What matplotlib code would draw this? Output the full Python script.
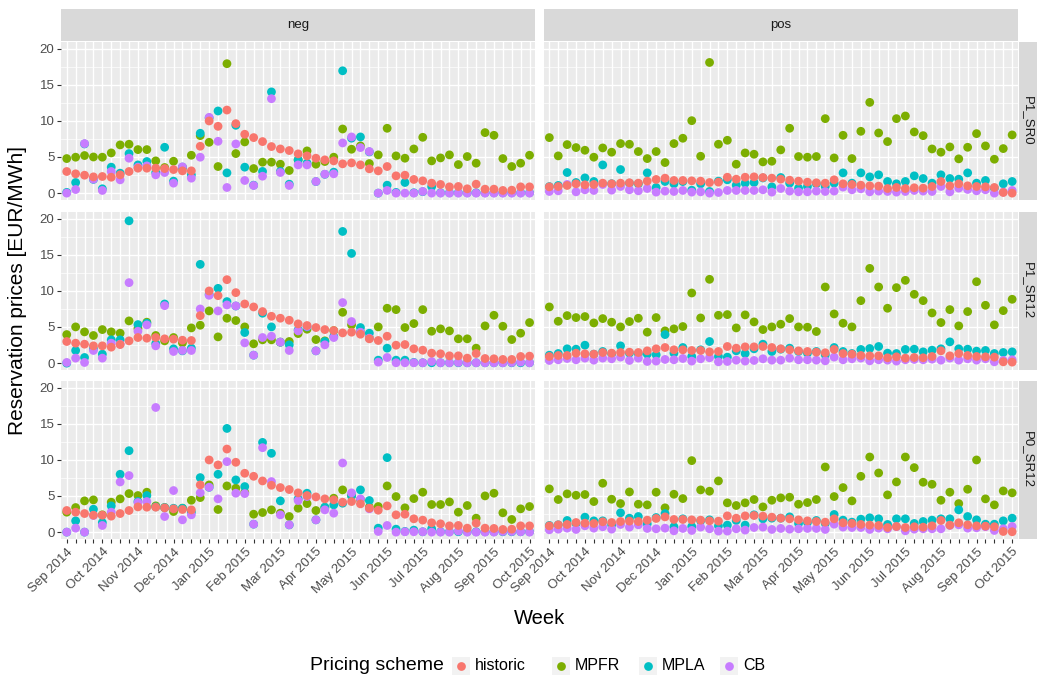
import numpy as np
import matplotlib
matplotlib.use("Agg")
import matplotlib.pyplot as plt
from matplotlib.patches import Rectangle
from matplotlib.lines import Line2D

plt.rcParams['font.family'] = ['Liberation Sans', 'DejaVu Sans']

schemes = ["historic", "MPFR", "MPLA", "CB"]
colours = ["#F8766D", "#7CAE00", "#00BFC4", "#C77CFF"]
directions = ["neg", "pos"]
products = ["P1_SR0", "P1_SR12", "P0_SR12"]
month_labels = ["Sep 2014", "Oct 2014", "Nov 2014", "Dec 2014", "Jan 2015", "Feb 2015", "Mar 2015",
                "Apr 2015", "May 2015", "Jun 2015", "Jul 2015", "Aug 2015", "Sep 2015", "Oct 2015"]
n_weeks = 53

# ---- P1_SR0 ----
p1sr0_neg_historic = [2.99,2.67,2.48,2.25,2.3,2.2,2.53,2.99,3.45,3.45, 3.45,3.4,3.26,3.08,3.08,6.48,9.98,9.24,11.49,9.61,
                      8.14,7.68,7.13,6.44,6.11,5.89,5.43,5.15,4.83,4.6, 4.46,4.05,4.18,3.91,3.36,3.08,3.68,2.39,2.48,1.89,
                      1.7,1.38,1.2,0.87,0.92,0.6,1.24,0.55,0.55,0.37, 0.41,0.87,0.87]
p1sr0_neg_mpfr = [4.78,4.97,5.2,5.0,4.97,5.56,6.67,6.76,6.02,6.02, 4.46,3.54,4.41,3.5,5.24,7.95,7.03,3.68,17.9,5.47,
                  7.08,3.4,4.28,4.28,4.0,3.13,4.6,5.84,4.0,4.37, 4.97,8.87,6.07,6.53,4.09,5.29,8.97,5.15,4.83,6.11,
                  7.72,4.46,4.87,5.29,3.95,5.06,4.14,8.37,8.0,4.78, 3.68,4.14,5.24]
p1sr0_neg_mpla = [0.1,1.47,6.8,1.9,0.6,3.59,2.76,5.47,3.9,4.37, 2.85,6.34,1.66,3.6,2.53,8.28,10.4,11.36,2.8,9.38,
                  3.59,1.1,3.0,14.0,3.0,1.24,4.6,4.14,1.6,2.6, 2.9,16.92,7.6,7.77,5.7,0.0,1.1,0.1,1.47,0.05,
                  0.2,0.9,0.05,0.05,0.05,0.05,0.05,0.05,0.05,0.05, 0.05,0.05,0.05]
p1sr0_neg_cb = [0.0,0.5,6.85,1.93,0.37,2.99,1.84,4.83,3.59,3.77, 2.53,2.85,1.38,3.63,2.07,4.97,10.48,7.17,0.78,6.8,
                1.75,1.06,2.34,13.06,2.85,1.06,3.9,3.9,1.61,2.62, 2.67,6.94,7.77,6.3,5.75,0.0,0.37,0.0,0.0,0.0,
                0.23,0.0,0.0,0.0,0.0,0.0,0.0,0.0,0.0,0.0, 0.0,0.0,0.0]
p1sr0_pos_historic = [0.87,0.92,1.06,1.29,1.15,1.2,1.38,1.29,1.38,1.43, 1.38,1.66,1.89,2.07,1.75,1.75,1.7,1.66,1.47,1.52,
                      2.2,1.93,2.2,2.25,2.16,2.07,1.93,1.79,1.66,1.52, 1.43,1.38,1.84,1.29,1.2,1.1,1.01,0.97,0.64,0.78,
                      0.64,0.74,0.69,0.92,1.61,1.01,1.29,1.01,0.92,0.87, 0.78,0.09,0.0]
p1sr0_pos_mpfr = [7.68,5.15,6.71,6.3,5.93,4.97,6.25,5.66,6.85,6.76, 5.75,4.78,5.75,4.23,6.85,7.59,10.02,5.1,18.07,6.76,
                  7.31,4.0,5.56,5.38,4.32,4.41,5.98,8.97,5.06,4.97, 5.06,10.3,4.87,8.0,4.78,8.55,12.55,8.32,7.13,10.3,
                  10.67,8.46,7.95,6.11,5.66,6.39,4.74,6.34,8.23,6.53, 4.69,6.16,8.05]
p1sr0_pos_mpla = [0.9,1.06,2.85,1.47,2.11,1.61,3.9,1.3,3.26,1.38, 1.29,2.8,0.78,1.61,1.29,1.6,0.41,1.29,0.23,1.66,
                  1.84,1.1,1.38,1.47,2.1,0.87,2.16,1.38,0.69,0.92, 1.29,0.92,1.38,2.8,1.38,2.8,2.25,2.53,1.61,1.29,
                  1.61,2.39,2.02,1.38,2.53,2.02,1.93,2.8,1.38,1.75, 0.69,1.29,1.61]
p1sr0_pos_cb = [0.23,0.32,1.2,0.18,0.46,0.37,1.2,0.41,0.92,0.46, 0.32,0.64,0.14,0.28,0.23,0.37,0.14,0.18,0.0,0.09,
                0.37,0.37,0.37,0.37,0.46,0.14,0.64,0.28,0.18,0.18, 0.28,0.23,0.28,0.83,0.46,0.6,0.18,0.28,0.23,0.14,
                0.23,0.37,0.28,0.23,0.92,0.18,0.69,0.51,0.32,0.46, 0.0,0.14,0.37]

# ---- P1_SR12 ----
p1sr12_neg_historic = [2.99,2.76,2.62,2.39,2.39,2.21,2.57,3.08,3.54,3.45, 3.54,3.36,3.31,3.17,3.13,6.57,9.98,9.33,11.54,9.75,
                       8.18,7.77,7.13,6.48,6.21,5.93,5.43,5.2,4.92,4.64, 4.51,4.18,4.28,4.0,3.36,3.13,3.72,2.48,2.57,1.98,
                       1.79,1.38,1.29,1.01,1.01,0.69,1.33,0.64,0.6,0.51, 0.51,0.92,0.97]
p1sr12_neg_mpfr = [3.95,5.01,4.32,3.82,4.64,4.32,4.14,5.84,4.8,5.66, 3.82,3.08,3.54,2.8,4.87,5.24,7.22,3.63,6.21,5.89,
                   5.01,2.67,3.22,3.22,2.9,2.99,4.09,4.69,3.26,3.08, 4.5,7.03,5.29,4.3,3.5,5.01,7.59,7.4,4.92,5.47,
                   7.4,4.41,4.74,4.46,3.36,3.36,2.07,5.15,6.62,5.1, 3.26,4.14,5.61]
p1sr12_neg_mpla = [0.0,1.75,0.78,1.98,1.24,3.22,3.22,19.68,5.33,5.52, 2.71,8.18,1.98,1.7,2.07,13.66,9.5,10.34,8.51,7.9,
                   4.23,1.1,6.9,5.01,2.9,2.53,4.6,5.0,1.7,2.99, 3.68,18.21,15.17,4.92,4.14,0.41,2.07,0.41,0.41,0.1,
                   0.05,0.05,0.05,0.05,0.05,0.05,0.05,0.05,0.05,0.05, 0.05,0.05,0.05]
p1sr12_neg_cb = [0.09,0.69,0.09,1.75,0.69,2.76,2.62,11.13,4.41,5.29, 2.39,7.95,1.61,1.75,1.75,7.49,9.38,7.22,8.05,7.91,
                 2.8,1.1,3.54,3.72,2.9,1.75,4.46,5.06,1.7,2.53, 3.54,8.37,5.75,4.28,3.45,0.14,0.78,0.05,0.05,0.05,
                 0.05,0.23,0.05,0.05,0.09,0.05,0.05,0.05,0.05,0.05, 0.09,0.14,0.05]
p1sr12_pos_historic = [0.92,1.06,1.06,1.38,1.29,1.24,1.47,1.38,1.47,1.52, 1.47,1.7,1.98,2.16,1.84,1.84,1.75,1.75,1.56,1.61,
                       2.3,2.07,2.25,2.25,2.3,2.16,1.98,1.84,1.7,1.61, 1.52,1.43,1.89,1.33,1.24,1.06,1.01,1.01,0.74,0.87,
                       0.69,0.78,0.74,0.92,1.7,1.01,1.33,1.06,0.92,0.87, 0.83,0.18,0.14]
p1sr12_pos_mpfr = [7.77,5.79,6.57,6.3,6.44,5.56,6.16,5.66,5.01,5.75, 6.21,4.28,6.3,4.46,4.74,5.06,9.7,6.25,11.59,6.62,
                   6.71,4.87,6.67,5.7,4.64,5.01,5.38,6.16,5.01,4.97, 4.37,10.53,6.8,5.52,5.01,8.64,13.1,10.53,7.59,10.44,
                   11.45,9.52,8.64,6.94,5.61,7.4,5.15,7.13,11.26,8.0, 5.29,7.26,8.83]
p1sr12_pos_mpla = [1.1,1.33,1.98,1.93,2.48,1.24,1.61,1.29,2.39,1.38, 1.29,1.24,1.15,3.95,1.38,2.16,0.92,1.84,2.99,0.92,
                   0.83,1.7,1.33,1.98,2.62,1.61,1.93,2.07,1.61,1.38, 1.61,1.15,2.16,1.61,1.33,1.89,2.02,2.3,1.38,1.33,
                   1.89,1.93,1.56,1.79,1.98,2.94,1.98,1.93,1.66,1.75, 1.33,1.47,1.56]
p1sr12_pos_cb = [0.37,0.46,0.64,0.46,0.69,0.41,0.69,0.6,0.83,0.37, 0.69,0.23,0.28,0.51,0.46,0.64,0.28,0.6,0.74,0.18,
                 0.23,0.41,0.28,0.37,0.6,0.41,0.41,0.69,0.46,0.46, 0.41,0.32,0.83,0.46,0.6,0.69,0.32,0.46,0.41,0.28,
                 0.46,0.51,0.46,0.55,0.41,0.69,0.41,0.6,0.41,0.6, 0.18,0.37,0.46]

# ---- P0_SR12 ----
p0sr12_neg_historic = [2.99,2.76,2.57,2.34,2.34,2.21,2.57,2.99,3.49,3.45, 3.45,3.36,3.22,3.13,3.08,6.53,9.98,9.29,11.49,9.66,
                       8.14,7.72,7.08,6.48,6.16,5.89,5.43,5.06,4.87,4.6, 4.46,4.14,4.23,3.91,3.31,3.03,3.63,2.39,2.48,1.84,
                       1.66,1.29,1.15,0.87,0.92,0.55,1.24,0.55,0.51,0.37, 0.41,0.87,0.87]
p0sr12_neg_mpfr = [2.76,3.4,4.32,4.46,2.39,4.14,4.6,5.33,5.06,5.52, 3.63,3.4,2.85,3.31,4.41,4.78,6.53,3.13,6.39,6.07,
                   5.5,2.48,2.71,3.08,2.62,2.16,3.31,3.95,2.99,3.4, 4.69,5.84,5.06,4.5,3.45,3.54,6.39,4.92,3.36,4.64,
                   5.52,3.82,3.82,4.18,2.76,3.68,1.93,5.01,5.38,2.67, 1.75,3.22,3.54]
p0sr12_neg_mpla = [0.0,1.56,0.0,3.17,1.33,3.63,8.0,11.26,4.23,5.06, 3.5,3.4,3.3,3.3,2.76,7.54,6.2,8.0,14.34,7.22,
                   6.3,1.1,12.41,10.9,4.32,1.0,4.6,5.38,1.7,3.45, 3.77,4.0,5.0,5.84,4.37,0.55,10.3,0.41,0.1,0.28,
                   0.05,0.46,0.05,0.05,0.05,0.05,0.05,0.05,0.05,0.05, 0.05,0.05,0.05]
p0sr12_neg_cb = [0.0,0.55,0.0,2.3,0.92,2.76,6.94,7.82,4.09,4.23, 17.24,2.16,5.75,1.7,2.39,5.43,6.21,4.6,9.75,5.38,
                 5.33,1.1,11.68,6.99,2.39,1.01,4.37,4.92,1.7,3.08, 2.62,9.56,5.43,4.6,3.22,0.09,0.92,0.0,0.05,0.05,
                 0.05,0.0,0.0,0.0,0.14,0.0,0.0,0.0,0.0,0.09, 0.09,0.05,0.0]
p0sr12_pos_historic = [0.87,1.01,1.06,1.33,1.24,1.2,1.43,1.33,1.47,1.52, 1.47,1.66,1.89,2.11,1.75,1.75,1.7,1.66,1.56,1.52,
                       2.25,1.93,2.25,2.3,2.21,2.07,1.93,1.84,1.7,1.56, 1.47,1.38,1.84,1.29,1.2,1.06,0.97,0.92,0.64,0.78,
                       0.64,0.74,0.69,0.87,1.61,0.97,1.29,1.01,0.87,0.83, 0.74,0.09,0.05]
p0sr12_pos_mpfr = [5.98,4.51,5.29,5.1,5.2,4.23,6.76,4.55,3.95,5.56, 3.86,3.77,5.52,3.36,5.24,4.64,9.89,5.84,5.66,7.08,
                   4.05,3.68,4.05,4.51,3.49,4.41,4.74,4.83,3.86,4.09, 4.51,9.01,4.92,6.16,4.32,7.72,10.39,8.18,5.15,6.94,
                   10.39,8.92,6.9,6.62,4.41,5.52,3.95,5.93,9.98,4.6, 3.77,5.7,5.43]
p0sr12_pos_mpla = [0.92,1.01,1.61,1.2,2.07,1.56,1.56,1.01,2.67,1.93, 2.16,1.15,2.02,2.57,0.74,1.84,0.78,1.56,1.7,0.87,
                   0.97,1.61,0.97,2.39,1.84,1.93,1.93,2.11,1.2,1.33, 1.61,1.2,2.44,1.66,1.38,1.79,1.98,1.84,1.06,1.84,
                   1.84,1.2,1.47,1.66,1.84,1.84,3.08,2.16,1.7,1.1, 1.1,1.56,1.93]
p0sr12_pos_cb = [0.32,0.41,0.55,0.37,0.87,0.55,0.74,0.41,1.06,0.69, 1.01,0.51,0.46,0.55,0.18,0.51,0.23,0.69,0.46,0.14,
                 0.14,0.46,0.28,0.64,0.69,0.37,0.51,0.41,0.46,0.51, 0.51,0.37,1.1,0.69,0.64,0.64,0.37,0.55,0.46,0.74,
                 0.18,0.41,0.46,0.46,0.46,0.92,1.01,0.55,0.6,0.74, 0.23,0.46,0.78]

panels = {
    ("P1_SR0", "neg"): [p1sr0_neg_historic, p1sr0_neg_mpfr, p1sr0_neg_mpla, p1sr0_neg_cb],
    ("P1_SR0", "pos"): [p1sr0_pos_historic, p1sr0_pos_mpfr, p1sr0_pos_mpla, p1sr0_pos_cb],
    ("P1_SR12", "neg"): [p1sr12_neg_historic, p1sr12_neg_mpfr, p1sr12_neg_mpla, p1sr12_neg_cb],
    ("P1_SR12", "pos"): [p1sr12_pos_historic, p1sr12_pos_mpfr, p1sr12_pos_mpla, p1sr12_pos_cb],
    ("P0_SR12", "neg"): [p0sr12_neg_historic, p0sr12_neg_mpfr, p0sr12_neg_mpla, p0sr12_neg_cb],
    ("P0_SR12", "pos"): [p0sr12_pos_historic, p0sr12_pos_mpfr, p0sr12_pos_mpla, p0sr12_pos_cb],
}

W, H = 1040, 684
fig = plt.figure(figsize=(W/100, H/100), dpi=100)

col_left = [61.4, 544.0]
col_w = 473.5
row_top = [42, 212, 381]
row_h = 158
weeks = np.arange(n_weeks)
draw_order = [1, 2, 3, 0]   # MPFR, MPLA, CB under historic

for r, prod in enumerate(products):
    for c, d in enumerate(directions):
        ax = fig.add_axes([col_left[c]/W, 1-(row_top[r]+row_h)/H, col_w/W, row_h/H])
        ax.set_facecolor("#EBEBEB")
        for s in ax.spines.values():
            s.set_visible(False)
        series = panels[(prod, d)]
        for k in draw_order:
            ax.scatter(weeks, series[k], s=40, color=colours[k], edgecolors="none", zorder=3)
        ax.set_xlim(-0.6, n_weeks - 1 + 0.6)
        ax.set_ylim(-0.95, 20.9)
        ax.set_xticks(weeks)
        ax.set_yticks([0, 5, 10, 15, 20])
        ax.set_yticks([2.5, 7.5, 12.5, 17.5], minor=True)
        ax.set_axisbelow(True)
        ax.grid(which="major", color="white", lw=1.0)
        ax.grid(which="minor", axis="y", color="white", lw=0.5)
        ax.tick_params(axis="both", which="minor", length=0)
        ax.tick_params(axis="both", which="major", color="#333333", length=3, width=0.8,
                       labelcolor="#4D4D4D", labelsize=9.5, pad=2)
        if c == 0:
            ax.set_yticklabels(["0", "5", "10", "15", "20"])
        else:
            ax.tick_params(axis="y", left=False, labelleft=False)
        if r == len(products) - 1:
            labs = [""] * n_weeks
            for j, m in enumerate(month_labels):
                labs[j*4] = m
            ax.set_xticklabels(labs, rotation=45, ha="right", va="top", rotation_mode="anchor")
        else:
            ax.tick_params(axis="x", bottom=False, labelbottom=False)

        # strips
        if r == 0:
            sax = fig.add_axes([col_left[c]/W, 1-41/H, col_w/W, 32/H])
            sax.set_facecolor("#D9D9D9")
            sax.set_xticks([]); sax.set_yticks([])
            for s in sax.spines.values():
                s.set_visible(False)
            sax.text(0.5, 0.5, d, ha="center", va="center", fontsize=9.5, color="#1A1A1A",
                     transform=sax.transAxes)
        if c == 1:
            sax = fig.add_axes([(col_left[1]+col_w+1)/W, 1-(row_top[r]+row_h)/H, 18/W, row_h/H])
            sax.set_facecolor("#D9D9D9")
            sax.set_xticks([]); sax.set_yticks([])
            for s in sax.spines.values():
                s.set_visible(False)
            sax.text(0.5, 0.5, prod, ha="center", va="center", rotation=-90, fontsize=9.5,
                     color="#1A1A1A", transform=sax.transAxes)

fig.text(18/W, 1-290/H, "Reservation prices [EUR/MWh]", rotation=90, ha="center", va="center",
         fontsize=15, color="black")
fig.text(539.5/W, 1-618/H, "Week", ha="center", va="center", fontsize=14.5, color="black")

# legend
fig.text(310/W, 1-666/H, "Pricing scheme", ha="left", va="center", fontsize=14, color="black")
key_x = [461, 561, 648, 729]
for k, name in enumerate(schemes):
    fig.add_artist(Rectangle(((key_x[k]-9)/W, 1-675/H), 18/W, 18/H, transform=fig.transFigure,
                             facecolor="#F2F2F2", edgecolor="none"))
    fig.add_artist(Line2D([key_x[k]/W], [1-666/H], marker="o", markersize=6.3, color=colours[k],
                          markeredgewidth=0, transform=fig.transFigure))
    fig.text((key_x[k]+14)/W, 1-666/H, name, ha="left", va="center", fontsize=11.5, color="black")

fig.savefig("out.png", dpi=100)
